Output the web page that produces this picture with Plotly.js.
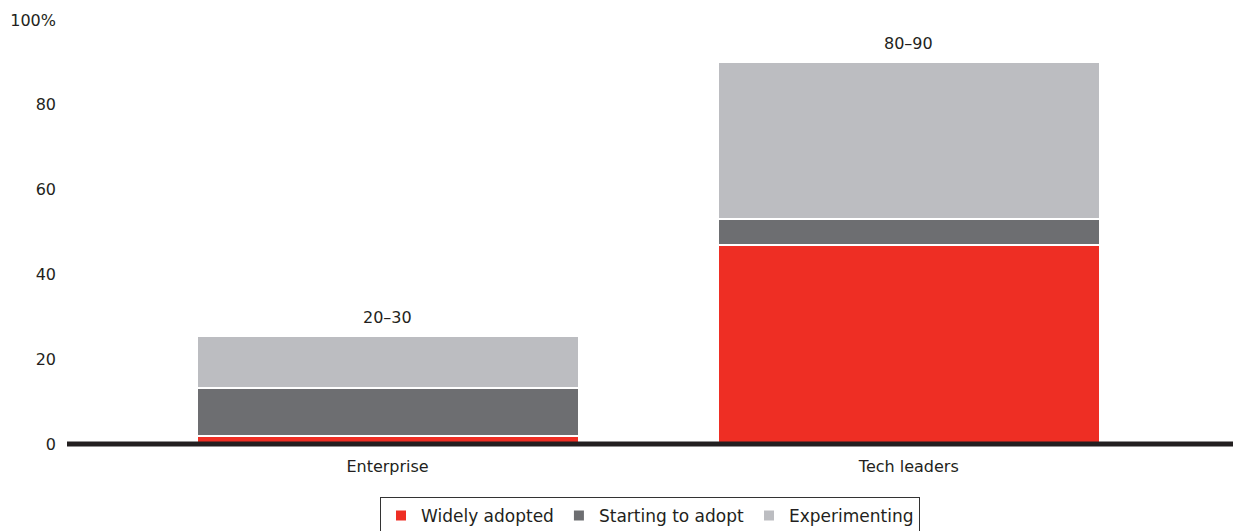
<!DOCTYPE html>
<html>
<head>
<meta charset="utf-8">
<script src="https://cdn.plot.ly/plotly-3.0.1.min.js"></script>
<style>html,body{margin:0;padding:0;background:#fff;}#chart{width:1233px;height:531px;}</style>
</head>
<body>
<div id="chart"></div>
<script>
var categories = ["Enterprise", "Tech leaders"];
var widelyAdopted = [1.8, 47];
var startingToAdopt = [11.5, 6];
var experimenting = [12.1, 37];
var rangeLabels = ["20–30", "80–90"];
var yTickVals = [0, 20, 40, 60, 80, 100];
var yTickText = ["0", "20", "40", "60", "80", "100%"];

var colors = {widely: "#ee2e24", starting: "#6d6e71", experimenting: "#bcbdc1"};
var FONT = "DejaVu Sans, sans-serif";

function barTrace(name, vals, color) {
  return {
    type: "bar", name: name, x: categories, y: vals, width: 0.733,
    marker: {color: color, line: {color: "#ffffff", width: 2}},
    hoverinfo: "skip"
  };
}

var data = [
  barTrace("Widely adopted", widelyAdopted, colors.widely),
  barTrace("Starting to adopt", startingToAdopt, colors.starting),
  barTrace("Experimenting", experimenting, colors.experimenting)
];

var annotations = categories.map(function (c, i) {
  return {
    x: c, y: widelyAdopted[i] + startingToAdopt[i] + experimenting[i],
    text: rangeLabels[i], showarrow: false, yanchor: "bottom", yshift: 7,
    font: {family: FONT, size: 16, color: "#231f20"}
  };
});

var layout = {
  width: 1233, height: 531,
  margin: {l: 67, r: 0, t: 20, b: 87, autoexpand: false},
  paper_bgcolor: "#ffffff", plot_bgcolor: "#ffffff",
  barmode: "stack",
  font: {family: FONT, size: 16, color: "#231f20"},
  xaxis: {
    type: "category", range: [-0.615, 1.622], showgrid: false, zeroline: false,
    showline: false, ticks: "", tickfont: {family: FONT, size: 16, color: "#231f20"},
    ticklabelstandoff: 11, fixedrange: true
  },
  yaxis: {
    range: [0, 100], tickvals: yTickVals, ticktext: yTickText, showgrid: false,
    zeroline: false, showline: false, ticks: "", ticklabelstandoff: 10,
    tickfont: {family: FONT, size: 16, color: "#231f20"}, fixedrange: true
  },
  shapes: [{
    type: "line", xref: "paper", yref: "paper", x0: 0, x1: 1, y0: 0, y1: 0,
    line: {color: "#231f20", width: 5}, layer: "above"
  }],
  annotations: annotations,
  showlegend: true,
  legend: {
    orientation: "h", x: 0.5, xanchor: "center", y: -0.125, yanchor: "top",
    traceorder: "normal", bordercolor: "#333333", borderwidth: 1,
    font: {family: FONT, size: 17, color: "#231f20"}, itemclick: false
  }
};

Plotly.newPlot("chart", data, layout, {displayModeBar: false, staticPlot: true});
</script>
</body>
</html>
